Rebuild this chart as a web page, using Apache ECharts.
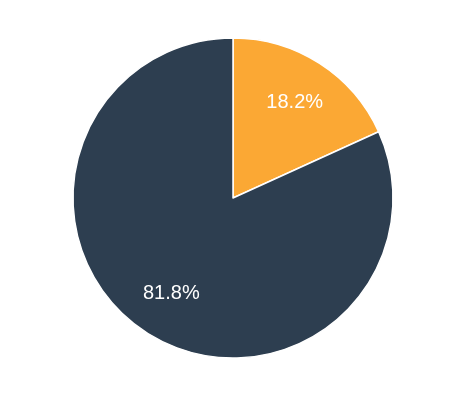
<!DOCTYPE html>
<html>
<head>
<meta charset="utf-8">
<script src="https://cdn.jsdelivr.net/npm/echarts@6/dist/echarts.min.js"></script>
<style>html,body{margin:0;padding:0;background:#fff}#c{width:465px;height:405px}</style>
</head>
<body>
<div id="c"></div>
<script>
const categories = ['A', 'B'];
const values = [18.2, 81.8];
const colors = ['#FBA834', '#2D3E50'];

const data = categories.map((c, i) => ({ name: c, value: values[i] }));
const chart = echarts.init(document.getElementById('c'), null, { renderer: 'canvas' });
chart.setOption({
  animation: false,
  color: colors,
  series: [
    {
      type: 'pie',
      center: [233, 198],
      radius: [0, 160],
      startAngle: 90,
      clockwise: true,
      data: data,
      itemStyle: { borderColor: '#fff', borderWidth: 1.5 },
      label: { show: false },
      labelLine: { show: false },
      silent: true
    },
    {
      type: 'pie',
      center: [233, 198],
      radius: [0, 222],
      startAngle: 90,
      clockwise: true,
      data: data,
      itemStyle: { color: 'rgba(0,0,0,0)', borderWidth: 0 },
      label: {
        show: true,
        position: 'inside',
        formatter: p => p.value.toFixed(1) + '%',
        color: '#fff',
        fontSize: 20,
        fontFamily: 'Liberation Sans, Arial, sans-serif'
      },
      labelLine: { show: false },
      silent: true
    }
  ]
});
</script>
</body>
</html>
